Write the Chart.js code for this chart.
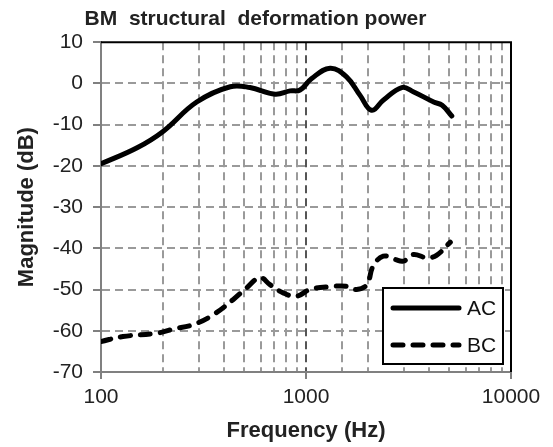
<!DOCTYPE html>
<html>
<head>
<meta charset="utf-8">
<script src="https://cdn.jsdelivr.net/npm/chart.js@4"></script>
<style>
  html, body { margin: 0; padding: 0; background: #fff; }
  #wrap { width: 553px; height: 447px; }
</style>
</head>
<body>
<div id="wrap"><canvas id="chart"></canvas></div>
<script>
// values
const freqAC = [100, 150, 200, 293, 427, 533, 707, 836, 935, 1066, 1311, 1577, 1836, 2086, 2381, 2931, 3335, 4196, 4614, 5142];
const magAC  = [-19.5, -15.6, -11.7, -4.5, -0.8, -1.0, -2.6, -1.8, -1.6, 1.2, 3.7, 1.6, -2.9, -6.5, -4.1, -1.0, -2.0, -4.5, -5.3, -7.9];

const freqBC = [100, 128, 187, 225, 282, 353, 442, 513, 596, 667, 774, 900, 1046, 1311, 1577, 1767, 1980, 2126, 2381, 2718, 2985, 3335, 3887, 4330, 5059];
const magBC  = [-62.6, -61.4, -60.6, -59.6, -58.5, -56.1, -52.4, -49.6, -47.1, -48.8, -50.8, -51.6, -50.0, -49.3, -49.2, -50.0, -48.8, -44.3, -41.9, -42.7, -43.1, -41.5, -42.3, -41.7, -38.5];

const xLabels = [100, 1000, 10000];
const yMin = -70, yMax = 10;

const FONT = "'Liberation Sans', Arial, sans-serif";
const gridGray = '#9a9a9a';
const axisGray = '#808080';

function pts(xs, ys) {
  return xs.map((x, i) => ({ x: x, y: ys[i] }));
}

// black frame on top/right + in-plot legend box
const framePlugin = {
  id: 'frame',
  afterDatasetsDraw(chart) {
    const { ctx, chartArea: a } = chart;
    ctx.save();
    ctx.strokeStyle = '#000';
    ctx.lineWidth = 2;
    ctx.beginPath();
    ctx.moveTo(a.left, a.top);
    ctx.lineTo(a.right, a.top);
    ctx.lineTo(a.right, a.bottom);
    ctx.stroke();

    // legend
    const w = 120, h = 76;
    const bx = a.right - 8 - w, by = a.bottom - 8 - h;
    ctx.fillStyle = '#fff';
    ctx.fillRect(bx, by, w, h);
    ctx.strokeRect(bx, by, w, h);
    ctx.font = '21px ' + FONT;
    ctx.textBaseline = 'middle';
    ctx.fillStyle = '#111';
    chart.data.datasets.forEach((ds, i) => {
      const ly = by + 20 + i * 37;
      ctx.lineWidth = ds.borderWidth;
      ctx.lineCap = 'round';
      ctx.setLineDash(ds.borderDash || []);
      ctx.beginPath();
      ctx.moveTo(bx + 10, ly);
      ctx.lineTo(bx + 76, ly);
      ctx.stroke();
      ctx.setLineDash([]);
      ctx.fillText(ds.label, bx + 84, ly + 1);
    });
    ctx.restore();
  }
};

new Chart(document.getElementById('chart'), {
  type: 'line',
  data: {
    datasets: [
      {
        label: 'AC',
        data: pts(freqAC, magAC),
        borderColor: '#000',
        borderWidth: 5,
        borderCapStyle: 'round',
        pointRadius: 0,
        tension: 0.4,
        fill: false
      },
      {
        label: 'BC',
        data: pts(freqBC, magBC),
        borderColor: '#000',
        borderWidth: 5,
        borderDash: [10, 10],
        borderCapStyle: 'round',
        pointRadius: 0,
        tension: 0.4,
        fill: false
      }
    ]
  },
  options: {
    responsive: true,
    maintainAspectRatio: false,
    animation: false,
    layout: { padding: { left: 0, right: 42, top: 0, bottom: 0 } },
    plugins: {
      legend: { display: false },
      tooltip: { enabled: false },
      title: {
        display: true,
        text: 'BM  structural  deformation power',
        color: '#222',
        font: { family: FONT, size: 21, weight: 'bold' },
        padding: { top: 7, bottom: 10 }
      }
    },
    scales: {
      x: {
        type: 'logarithmic',
        min: 100,
        max: 10000,
        afterFit: s => { s.height = 75; },
        border: { color: axisGray, width: 2, dash: [8, 5] },
        grid: {
          color: c => {
            const v = c.tick && c.tick.value;
            if (v === 100 || v === 10000) return 'rgba(0,0,0,0)';
            return v === 1000 ? '#555' : gridGray;
          },
          lineWidth: 2,
          tickBorderDash: [],
          tickLength: 7,
          tickColor: c => xLabels.includes(c.tick && c.tick.value) ? axisGray : 'rgba(0,0,0,0)'
        },
        ticks: {
          autoSkip: false,
          maxRotation: 0,
          color: '#222',
          padding: 6,
          font: { family: FONT, size: 21 },
          callback: v => xLabels.includes(v) ? String(v) : ''
        },
        title: {
          display: true,
          text: 'Frequency (Hz)',
          color: '#222',
          font: { family: FONT, size: 22, weight: 'bold' },
          padding: { top: 0, bottom: 3 }
        }
      },
      y: {
        min: yMin,
        max: yMax,
        afterFit: s => { s.width = 101; },
        border: { color: axisGray, width: 2, dash: [8, 5] },
        grid: {
          color: c => {
            const v = c.tick && c.tick.value;
            return (v === yMin || v === yMax) ? 'rgba(0,0,0,0)' : gridGray;
          },
          lineWidth: 2,
          tickBorderDash: [],
          tickLength: 8,
          tickColor: axisGray
        },
        ticks: {
          stepSize: 10,
          color: '#222',
          padding: 10,
          font: { family: FONT, size: 21 }
        },
        title: {
          display: true,
          text: 'Magnitude (dB)',
          color: '#222',
          font: { family: FONT, size: 22, weight: 'bold' },
          padding: { top: 14, bottom: 0 }
        }
      }
    }
  },
  plugins: [framePlugin]
});
</script>
</body>
</html>
